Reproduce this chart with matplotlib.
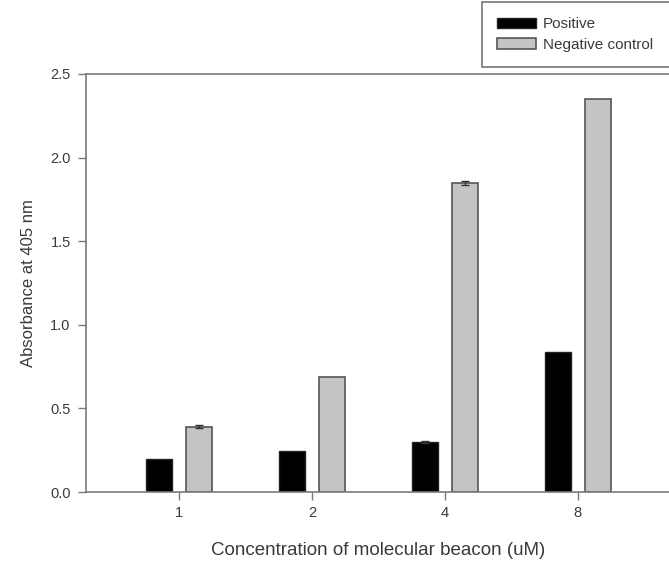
import matplotlib
matplotlib.use("Agg")
import matplotlib.pyplot as plt
import numpy as np

plt.rcParams['font.family'] = ['Liberation Sans', 'DejaVu Sans']

# data
concentrations = ["1", "2", "4", "8"]
positive = [0.197, 0.245, 0.30, 0.84]
positive_err = [0.0, 0.0, 0.008, 0.0]
negative = [0.39, 0.69, 1.85, 2.35]
negative_err = [0.008, 0.0, 0.012, 0.0]

text_col = "#3a3a3a"
spine_col = "#7a7a7a"

fig = plt.figure(figsize=(6.69, 5.62), dpi=100)
ax = fig.add_axes([86 / 669, 70 / 562, 585 / 669, 418 / 562])

x = np.arange(len(concentrations))
w = 0.19
off = 0.15
ax.bar(x - off, positive, w, color="black", edgecolor="#222222", lw=1,
       label="Positive")
ax.bar(x + off, negative, w, color="#c4c4c4", edgecolor="#555555", lw=1.2,
       label="Negative control")

# error bars only where there is a visible error
for xs, vals, errs in [(x - off, positive, positive_err), (x + off, negative, negative_err)]:
    keep = [i for i, e in enumerate(errs) if e > 0]
    ax.errorbar([xs[i] for i in keep], [vals[i] for i in keep],
                yerr=[errs[i] for i in keep], fmt="none", ecolor="#333333",
                capsize=3, lw=1)

ax.set_xlim(-0.7, 3.7)
ax.set_ylim(0, 2.5)
ax.set_yticks([0, 0.5, 1.0, 1.5, 2.0, 2.5])
ax.set_yticklabels(["0.0", "0.5", "1.0", "1.5", "2.0", "2.5"])
ax.set_xticks(x)
ax.set_xticklabels(concentrations)

for s in ax.spines.values():
    s.set_color(spine_col)
    s.set_linewidth(1.2)
ax.spines['right'].set_visible(False)
ax.tick_params(colors=spine_col, labelcolor=text_col, labelsize=10.5,
               direction="out", length=6, width=1)
ax.tick_params(axis="x", pad=4)
ax.tick_params(axis="y", pad=5)

ax.set_xlabel("Concentration of molecular beacon (uM)", fontsize=13.5,
              color=text_col, labelpad=16)
ax.set_ylabel("Absorbance at 405 nm", fontsize=12, color=text_col, labelpad=10)

leg = fig.legend(loc="upper left",
                 bbox_to_anchor=(482 / 669, 1 - 66 / 562, 200 / 669, 64 / 562),
                 mode="expand", fontsize=11, frameon=True, fancybox=False,
                 handlelength=2.55, handleheight=0.7, borderpad=1.0,
                 labelspacing=0.45, handletextpad=0.45, borderaxespad=0)
leg.get_frame().set_edgecolor("#555555")
leg.get_frame().set_linewidth(1.2)
for t in leg.get_texts():
    t.set_color(text_col)

fig.savefig("out.png", dpi=100)
